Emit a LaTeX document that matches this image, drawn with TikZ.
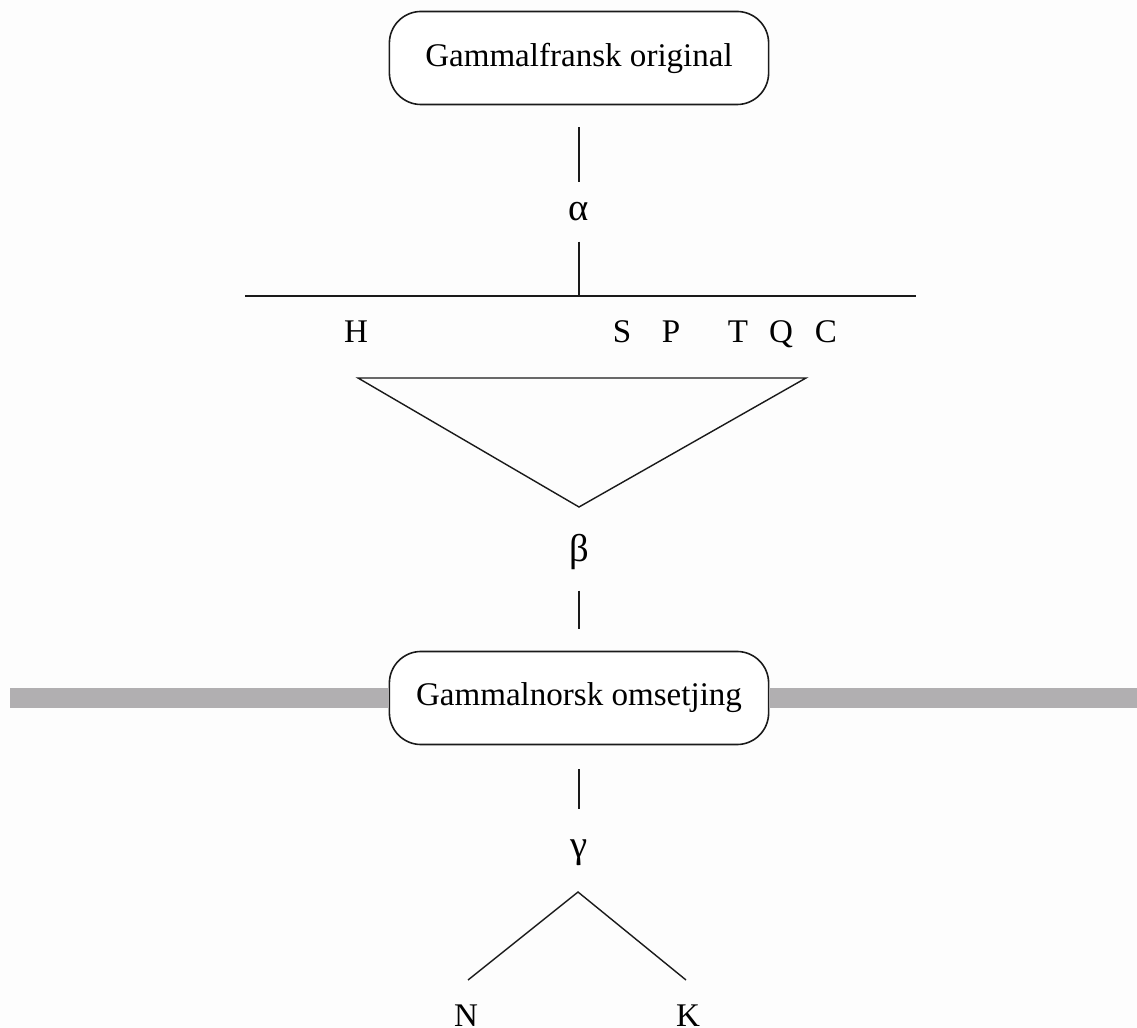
\documentclass[tikz,border=0pt]{standalone}
\usepackage{fontspec}
\setmainfont{Liberation Serif}
\usepackage{tikz}
\usepackage{xcolor}
\usetikzlibrary{positioning,calc}
\definecolor{cInk}{HTML}{1A1A1A}
\definecolor{cBand}{HTML}{B1AFB1}
\definecolor{cPaper}{HTML}{FDFDFD}
\tikzset{
  ms/.style   ={rounded corners=9pt,draw=cInk,fill=white,line width=0.45pt,
                minimum width=3.79cm,minimum height=0.93cm,
                font=\fontsize{9.4}{11}\selectfont},
  sig/.style  ={font=\fontsize{9.4}{11}\selectfont,inner sep=0pt,anchor=base},
  grk/.style  ={font=\fontsize{11}{12}\selectfont,inner sep=0pt},
  ln/.style   ={cInk,line width=0.4pt},
  band/.style ={cBand,line width=0.19cm},
}

\begin{document}
\begin{tikzpicture}[x=0.01cm,y=-0.01cm]
\fill[cPaper] (0,0) rectangle (1137,1028);
\useasboundingbox (0,0) rectangle (1137,1028);
% the two manuscripts
\node[ms] (orig) at (579,58) {Gammalfransk original};
\node[ms] (norsk) at (579,698) {Gammalnorsk omsetjing};
% grey band behind the translation
\draw[band] (10,698) -- (norsk.west);
\draw[band] (norsk.east) -- (1137,698);
% alpha branch
\node[grk,minimum height=0.58cm] (alpha) at (579,212) {α};
\coordinate (junc) at (579,296);
\draw[ln,shorten <=0.22cm] (orig.south) -- (alpha.north);
\draw[ln] (alpha.south) -- (junc);
\draw[ln] (245,296) -- (junc) -- (916,296);
% the French witnesses
\foreach \n/\x in {H/356,S/622,P/671,T/738,Q/781,C/826}
  \node[sig] (\n) at (\x,343) {\n};
% triangle down to beta
\coordinate (apex) at (579,507);
\draw[ln] (358,378) -- (806,378) -- (apex) -- cycle;
\node[grk,minimum height=0.76cm] (beta) at (579,552) {β};
\draw[ln,shorten >=0.22cm] (beta.south) -- (norsk.north);
% gamma and the Norse copies
\node[grk,minimum height=0.86cm] (gamma) at (579,853) {γ};
\draw[ln,shorten <=0.24cm] (norsk.south) -- (gamma.north);
\coordinate (fork) at (578,892);
\node[sig] (N) at (466,1026) {N};
\node[sig] (K) at (688,1026) {K};
\coordinate (nEnd) at (468,980);
\coordinate (kEnd) at (686,980);
\draw[ln] (nEnd) -- (fork) -- (kEnd);
\end{tikzpicture}
\end{document}
